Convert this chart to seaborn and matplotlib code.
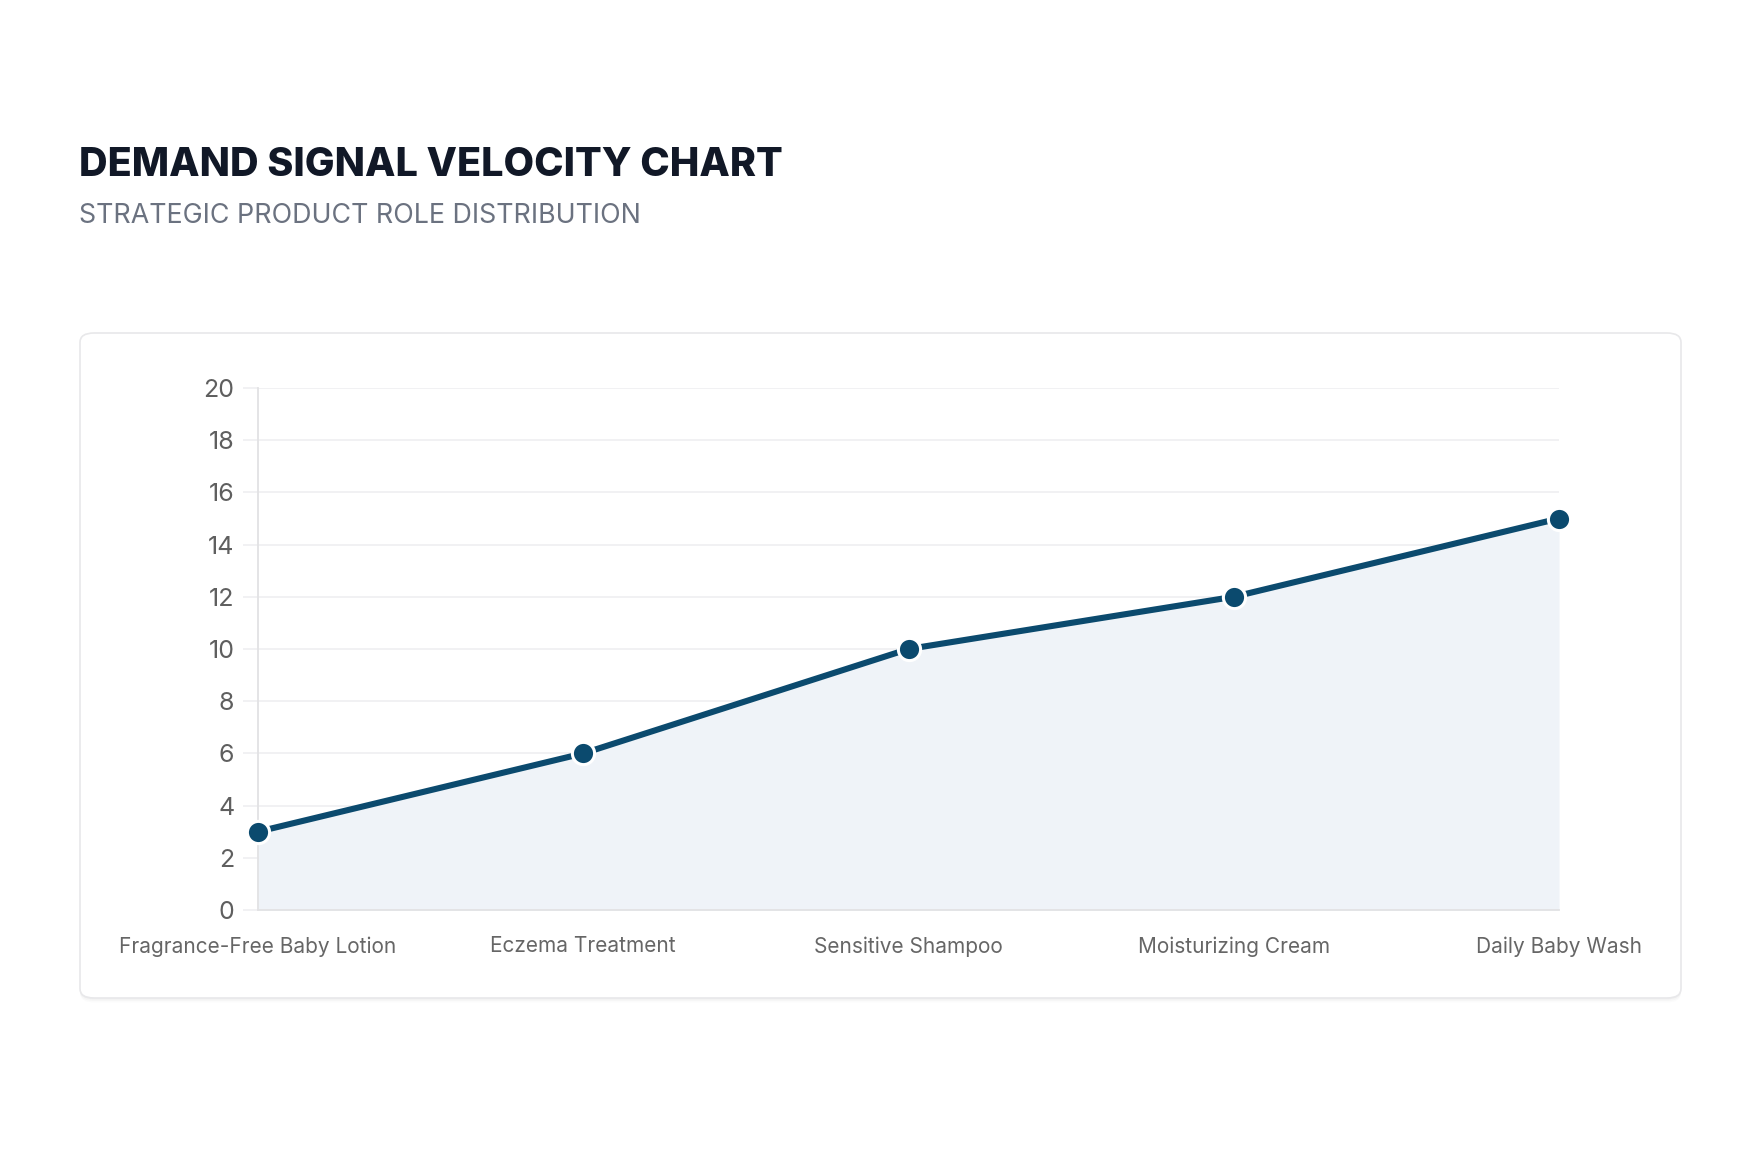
import matplotlib
matplotlib.use("Agg")
import matplotlib.pyplot as plt
from matplotlib.patches import FancyBboxPatch
import seaborn as sns
import pandas as pd

categories = ["Fragrance-Free Baby Lotion", "Eczema Treatment", "Sensitive Shampoo",
              "Moisturizing Cream", "Daily Baby Wash"]
values = [3, 6, 10, 12, 15]
y_ticks = [0, 2, 4, 6, 8, 10, 12, 14, 16, 18, 20]

title = "DEMAND SIGNAL VELOCITY CHART"
subtitle = "STRATEGIC PRODUCT ROLE DISTRIBUTION"

sns.set_theme(style="white")
plt.rcParams['font.family'] = ['Inter', 'DejaVu Sans']

W, H = 1759, 1163
fig = plt.figure(figsize=(W / 100, H / 100), dpi=100)
fig.patch.set_facecolor("white")

# card
for i, a in enumerate([0.025, 0.02, 0.015]):
    sh = FancyBboxPatch((80 / W, 1 - 998 / H - (i + 1) * 1.5 / H), 1601 / W, 665 / H,
                        boxstyle="round,pad=0,rounding_size=0.008",
                        transform=fig.transFigure, facecolor=(0, 0, 0, a),
                        edgecolor="none", zorder=0)
    fig.patches.append(sh)
card = FancyBboxPatch((80 / W, 1 - 998 / H), 1601 / W, 665 / H,
                      boxstyle="round,pad=0,rounding_size=0.008",
                      transform=fig.transFigure, facecolor="white",
                      edgecolor="#e8e8ea", linewidth=1.2, zorder=1)
fig.patches.append(card)

fig.text(79 / W, 1 - 166 / H, title, fontsize=28.5, fontweight="heavy",
         color="#111827", va="center", ha="left")
fig.text(79 / W, 1 - 216 / H, subtitle, fontsize=19.3, color="#6b7280",
         va="center", ha="left")

ax = fig.add_axes([258 / W, 1 - 910 / H, (1559 - 258) / W, (910 - 388) / H])
ax.set_facecolor("none")
ax.set_zorder(2)

df = pd.DataFrame({"x": range(len(categories)), "y": values})
ax.fill_between(df["x"], df["y"], 0, color="#eff3f8", zorder=1, linewidth=0)
sns.lineplot(data=df, x="x", y="y", ax=ax, color="#0b4a6e", linewidth=4.4,
             marker="o", markersize=16, markeredgecolor="white",
             markeredgewidth=2.2, zorder=3, clip_on=False)

ax.set_xlim(0, len(categories) - 1)
ax.set_ylim(0, 20)
ax.set_yticks(y_ticks)
ax.set_xticks(range(len(categories)))
ax.set_xticklabels(categories)
ax.set_xlabel("")
ax.set_ylabel("")
ax.grid(axis="y", color="#f0f0f2", linewidth=1.3, zorder=0)
ax.grid(axis="x", visible=False)
for s in ["top", "right"]:
    ax.spines[s].set_visible(False)
for s in ["left", "bottom"]:
    ax.spines[s].set_color("#e2e2e4")
    ax.spines[s].set_linewidth(1.3)
ax.tick_params(axis="y", length=11, color="#f0f0f2", width=1.3, pad=6,
               labelsize=18, labelcolor="#5f5f5f", left=True)
ax.tick_params(axis="x", length=0, pad=19, labelsize=15, labelcolor="#666666")

fig.savefig("out.png", dpi=100, facecolor="white")
